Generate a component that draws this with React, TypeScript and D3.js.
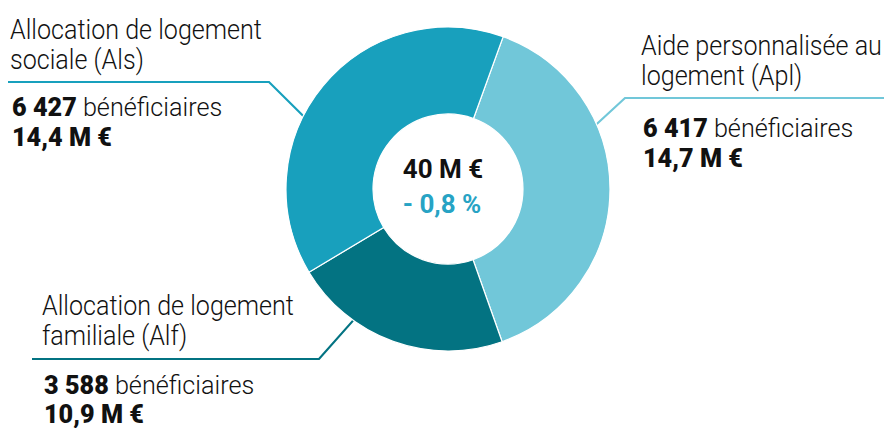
import React from "react";
import * as d3 from "d3";

const categories = ["Aide personnalisée au logement (Apl)", "Allocation de logement familiale (Alf)", "Allocation de logement sociale (Als)"];
const shortNames = ["Apl", "Alf", "Als"];
const beneficiaries = [6417, 3588, 6427];
const amounts = ["14,7", "10,9", "14,4"];
const totalLabel = "40 M €";
const changeLabel = "- 0,8 %";
const titleLines = [
  ["Aide personnalisée au", "logement (Apl)"],
  ["Allocation de logement", "familiale (Alf)"],
  ["Allocation de logement", "sociale (Als)"],
];
const colors = ["#71c7d9", "#037382", "#18a0bd"];

const W = 884;
const H = 428;
const cx = 448;
const cy = 189;
const rOuter = 162;
const rInner = 75;
const startDeg = 19.9;

const layouts = [
  { x: 641, y: 55, lineY: 98, lineX0: 625, lineX1: 884, angle: 67.5, numY: 137, gap: 30 },
  { x: 42, y: 315, lineY: 359, lineX0: 319, lineX1: 32, angle: 215.5, numY: 394, gap: 29 },
  { x: 10, y: 39, lineY: 82, lineX0: 269, lineX1: 8, angle: 295.8, numY: 116, gap: 30 },
];

const FONT = "Roboto, 'Noto Sans', sans-serif";
const SQ_TITLE = 0.93;
const SQ_NUM = 0.97;

export default function App() {
  const pie = d3
    .pie<number>()
    .sort(null)
    .value((d) => d)
    .startAngle((startDeg * Math.PI) / 180)
    .endAngle(((startDeg + 360) * Math.PI) / 180);
  const arcs = pie(beneficiaries);
  const arc = d3.arc<d3.PieArcDatum<number>>().innerRadius(rInner).outerRadius(rOuter);

  return (
    <svg width={W} height={H} style={{ position: "absolute", left: 0, top: 0 }}>
      <rect width={W} height={H} fill="#fff" />
      {layouts.map((l, i) => {
        const a = (l.angle * Math.PI) / 180;
        const ex = cx + Math.sin(a) * (rOuter - 8);
        const ey = cy - Math.cos(a) * (rOuter - 8);
        return (
          <polyline
            key={"l" + i}
            points={`${l.lineX1},${l.lineY} ${l.lineX0},${l.lineY} ${ex},${ey}`}
            fill="none"
            stroke={colors[i]}
            strokeWidth={2.2}
          />
        );
      })}
      <g transform={`translate(${cx},${cy})`}>
        {arcs.map((d, i) => (
          <path key={shortNames[i]} d={arc(d) || ""} fill={colors[i]} stroke="#fff" strokeWidth={1.2} />
        ))}
        <text x={-5} y={-11} textAnchor="middle" fontFamily={FONT} fontWeight={700} fontSize={26} fill="#111">
          {totalLabel}
        </text>
        <text x={-6} y={24} textAnchor="middle" fontFamily={FONT} fontWeight={700} fontSize={26} fill="#27a3c4">
          {changeLabel}
        </text>
      </g>
      {layouts.map((l, i) => (
        <g key={"t" + i} fontFamily={FONT} fill="#111">
          <g transform={`translate(${l.x},0) scale(${SQ_TITLE},1)`}>
            <text x={0} y={l.y} fontSize={27} fontWeight={300}>
              {titleLines[i][0]}
            </text>
            <text x={0} y={l.y + 30} fontSize={27} fontWeight={300}>
              {titleLines[i][1]}
            </text>
          </g>
          <g transform={`translate(${l.x + 2},0) scale(${SQ_NUM},1)`}>
            <text x={0} y={l.numY} fontSize={26}>
              <tspan fontWeight={900}>{d3.format(",")(beneficiaries[i]).replace(/,/g, " ")}</tspan>
              <tspan fontWeight={300}> bénéficiaires</tspan>
            </text>
            <text x={0} y={l.numY + l.gap} fontSize={26} fontWeight={900}>
              {amounts[i] + " M €"}
            </text>
          </g>
        </g>
      ))}
    </svg>
  );
}
